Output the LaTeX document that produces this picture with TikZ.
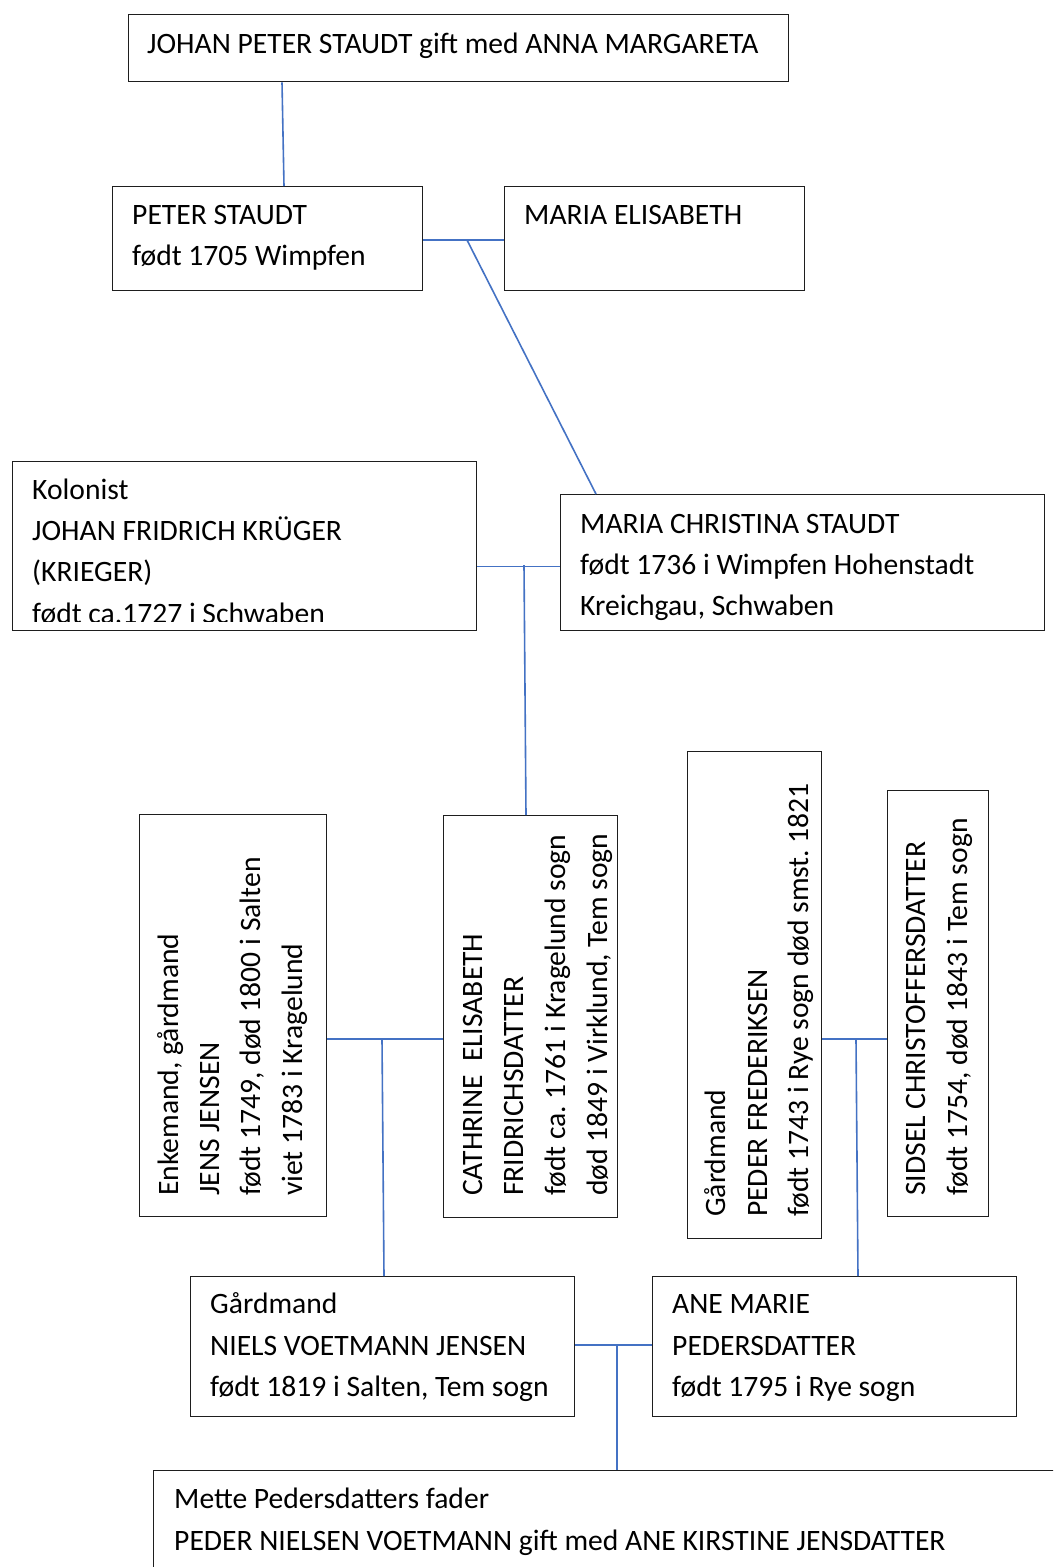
\documentclass[tikz,border=0pt]{standalone}
\usepackage{fontspec}
\setmainfont{Carlito}
\usetikzlibrary{calc}
\frenchspacing
\definecolor{connblue}{RGB}{68,114,196}
\definecolor{boxline}{RGB}{30,30,30}
\begin{document}
\begin{tikzpicture}[x=1pt,y=-1pt,
  box/.style={draw=boxline,line width=1.3pt,rectangle,inner sep=0pt,anchor=north west},
  conn/.style={draw=connblue,line width=1.6pt},
  htxt/.style={anchor=base west,inner sep=0pt,font=\fontsize{29.6}{41}\selectfont\frenchspacing},
  rtxt/.style={rotate=90,anchor=base west,inner sep=0pt,font=\fontsize{29.6}{41}\selectfont\frenchspacing}]
\useasboundingbox[fill=white] (0,0) rectangle (1053,1567);

% boxes
\node[box,minimum width=660pt,minimum height=67pt] (b1) at (128,14) {};
\node[box,minimum width=310pt,minimum height=104pt] (b2) at (112,186) {};
\node[box,minimum width=300pt,minimum height=104pt] (b3) at (504,186) {};
\node[box,minimum width=464pt,minimum height=169pt] (b4) at (12,461) {};
\node[box,minimum width=484pt,minimum height=136pt] (b5) at (560,494) {};
\node[box,minimum width=187pt,minimum height=402pt] (b6) at (139,814) {};
\node[box,minimum width=174pt,minimum height=402pt] (b7) at (443,815) {};
\node[box,minimum width=134pt,minimum height=487pt] (b8) at (687,751) {};
\node[box,minimum width=101pt,minimum height=426pt] (b9) at (887,790) {};
\node[box,minimum width=384pt,minimum height=140pt] (b10) at (190,1276) {};
\node[box,minimum width=364pt,minimum height=140pt] (b11) at (652,1276) {};
\begin{scope}
\clip (0,0) rectangle (1053,1567);
\node[box,minimum width=920pt,minimum height=120pt] (b12) at (153,1470) {};
\end{scope}

% texts
\node[htxt] (t1) at (147,53) {JOHAN PETER STAUDT gift med ANNA MARGARETA};
\node[htxt] (t2a) at (132,224) {PETER STAUDT};
\node[htxt] (t2b) at (132,265) {født 1705 Wimpfen};
\node[htxt] (t3) at (524,224) {MARIA ELISABETH};
\node[htxt] (t4a) at (32,499) {Kolonist};
\node[htxt] (t4b) at (32,540) {JOHAN FRIDRICH KRÜGER};
\node[htxt] (t4c) at (32,581) {(KRIEGER)};
\begin{scope}
\clip (12,461) rectangle (476,621);
\node[htxt] (t4d) at (32,623) {født ca.1727 i Schwaben};
\end{scope}
\node[htxt] (t5a) at (580,533) {MARIA CHRISTINA STAUDT};
\node[htxt] (t5b) at (580,574) {født 1736 i Wimpfen Hohenstadt};
\node[htxt] (t5c) at (580,615) {Kreichgau, Schwaben};

\node[rtxt] (t6a) at (178,1196) {Enkemand, gårdmand};
\node[rtxt] (t6b) at (219,1196) {JENS JENSEN};
\node[rtxt] (t6c) at (260,1196) {født 1749, død 1800 i Salten};
\node[rtxt] (t6d) at (302,1196) {viet 1783 i Kragelund};

\node[rtxt] (t7a) at (482,1196) {CATHRINE~ ELISABETH};
\node[rtxt] (t7b) at (523,1196) {FRIDRICHSDATTER};
\node[rtxt] (t7c) at (565,1196) {født ca. 1761 i Kragelund sogn};
\node[rtxt] (t7d) at (607,1196) {død 1849 i Virklund, Tem sogn};

\node[rtxt] (t8a) at (725,1217) {Gårdmand};
\node[rtxt] (t8b) at (767,1217) {PEDER FREDERIKSEN};
\node[rtxt] (t8c) at (808,1217) {født 1743 i Rye sogn død smst. 1821};

\node[rtxt] (t9a) at (925,1196) {SIDSEL CHRISTOFFERSDATTER};
\node[rtxt] (t9b) at (967,1196) {født 1754, død 1843 i Tem sogn};

\node[htxt] (t10a) at (210,1313) {Gårdmand};
\node[htxt] (t10b) at (210,1355) {NIELS VOETMANN JENSEN};
\node[htxt] (t10c) at (210,1396) {født 1819 i Salten, Tem sogn};
\node[htxt] (t11a) at (672,1313) {ANE MARIE};
\node[htxt] (t11b) at (672,1355) {PEDERSDATTER};
\node[htxt] (t11c) at (672,1396) {født 1795 i Rye sogn};
\node[htxt] (t12a) at (174,1508) {Mette Pedersdatters fader};
\node[htxt] (t12b) at (174,1550) {PEDER NIELSEN VOETMANN gift med ANE KIRSTINE JENSDATTER};

% junctions
\coordinate (j1) at (467,240);
\coordinate (j2) at (524,565);
\coordinate (j3) at (382,1039);
\coordinate (j4) at (856,1039);
\coordinate (j5) at (617,1345);

% connectors
\draw[conn] ($(b1.south west)+(154,0)$) -- ($(b2.north west)+(172,0)$);
\draw[conn] ($(b2.north east)+(0,54)$) -- ($(b3.north west)+(0,54)$);
\draw[conn] (j1) -- ($(b5.north west)+(36,0)$);
\draw[conn] ($(b4.south east)+(0,-65)$) -- ($(b5.south west)+(0,-65)$);
\draw[conn] (j2) -- ($(b7.north west)+(83,0)$);
\draw[conn] ($(b6.north east)+(0,225)$) -- ($(b7.north west)+(0,224)$);
\draw[conn] (j3) -- ($(b10.north west)+(194,0)$);
\draw[conn] ($(b8.north east)+(0,288)$) -- ($(b9.north west)+(0,249)$);
\draw[conn] (j4) -- ($(b11.north west)+(206,0)$);
\draw[conn] ($(b10.north east)+(0,69)$) -- ($(b11.north west)+(0,69)$);
\draw[conn] (j5) -- ($(b12.north west)+(464,0)$);
\end{tikzpicture}
\end{document}
